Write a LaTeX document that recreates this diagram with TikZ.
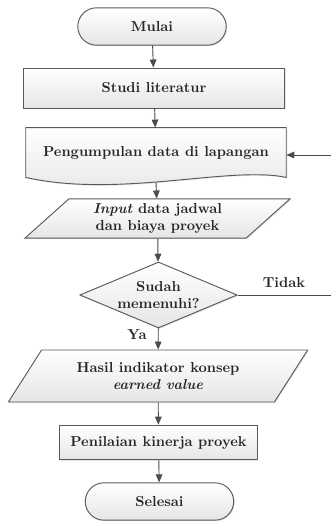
\documentclass[tikz,border=0pt]{standalone}
\usetikzlibrary{shapes.geometric,shapes.misc,arrows.meta,shadows,backgrounds}

\begin{document}
\begin{tikzpicture}[x=0.75pt,y=-0.75pt,
  every node/.style={font=\fontsize{10.8}{13}\selectfont\bfseries, text=black!85, align=center},
  box/.style={draw=black!65, line width=0.7pt, top color=white, bottom color=black!10,
    drop shadow={opacity=0.2, shadow xshift=0.8pt, shadow yshift=-0.8pt}},
  terminal/.style={box, rounded rectangle, minimum width=118pt, minimum height=28pt},
  proc/.style={box, rectangle, minimum height=30pt},
  io/.style={box, trapezium, trapezium stretches=true,
    trapezium left angle=49, trapezium right angle=131},
  decision/.style={box, diamond, inner sep=-3pt, shape aspect=2.4,
    minimum width=118pt, minimum height=49.5pt},
  arr/.style={draw=black!70, line width=0.7pt, -{Triangle[length=6pt,width=5pt]}},
  lne/.style={draw=black!70, line width=0.7pt},
  lbl/.style={inner sep=1pt}]
\useasboundingbox (0,0) rectangle (331,521);

\node[terminal] (mulai) at (152,26.5) {Mulai};
\node[proc, minimum width=196pt] (studi) at (154,88) {Studi literatur};

% document shape
\node[minimum width=195pt, minimum height=37pt] (kumpul) at (156,152.5) {Pengumpulan data di lapangan};
\begin{scope}[on background layer]
\path[box] (kumpul.north west) -- (kumpul.north east) -- (kumpul.south east)
    .. controls +(-56,-12) and +(94,21) .. (kumpul.south west) -- cycle;
\end{scope}

\node[io, minimum width=199pt, minimum height=28pt] (input) at (157.5,218.5) {\textit{Input} data jadwal\\dan biaya proyek};
\node[decision] (cek) at (158.5,295) {Sudah\\memenuhi?};
\node[io, trapezium left angle=56, trapezium right angle=124,
  minimum width=225pt, minimum height=39pt] (hasil) at (158,376) {Hasil indikator konsep\\\textit{earned value}};
\node[proc, minimum width=148pt, minimum height=26pt] (nilai) at (158.5,442.5) {Penilaian kinerja proyek};
\node[terminal] (selesai) at (159.5,501.5) {Selesai};

% loop back
\coordinate (kanan) at (331,295);
\coordinate (balik) at (331,155);

\draw[arr] (mulai) -- (studi);
\draw[arr] (studi) -- (kumpul);
\draw[arr] (kumpul.south) ++(0,5) -- (input);
\draw[arr] (input) -- (cek);
\draw[arr] (cek) -- (hasil);
\draw[arr] (hasil) -- (nilai);
\draw[arr] (nilai) -- (selesai);
\draw[lne] (cek) -- (kanan);
\draw[arr] (balik) -- (balik -| kumpul.east);

\node[lbl] (tidak) at (284,283) {Tidak};
\node[lbl] (ya) at (137,335) {Ya};
\end{tikzpicture}
\end{document}
